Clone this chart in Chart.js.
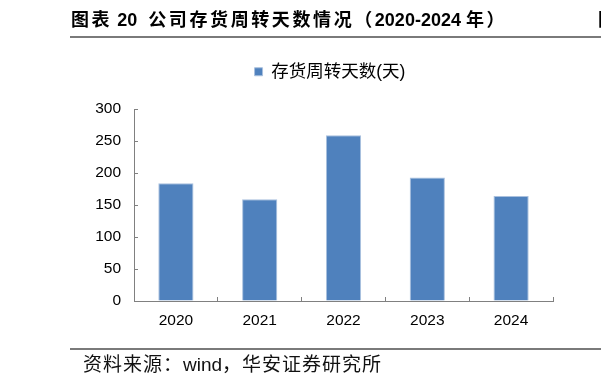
<!DOCTYPE html>
<html>
<head>
<meta charset="utf-8">
<script src="https://cdn.jsdelivr.net/npm/chart.js@4.4.1/dist/chart.umd.min.js"></script>
<style>
  body {
    margin: 0;
    width: 601px;
    height: 387px;
    position: relative;
    overflow: hidden;
    background: #fff;
    font-family: "Liberation Sans", "Noto Sans CJK SC", sans-serif;
  }
  #chart { position: absolute; left: 0; top: 0; }
  .title {
    position: absolute;
    left: 71px;
    top: 8px;
    font-size: 18px;
    font-weight: bold;
    line-height: 24px;
    white-space: nowrap;
    color: #000;
  }
  .title .cj { letter-spacing: 2.6px; }
  .title .gap { margin-left: 6px; }
  .cut {
    position: absolute;
    left: 598px;
    top: 8px;
    font-size: 18px;
    font-weight: bold;
    line-height: 24px;
  }
  .rule {
    position: absolute;
    left: 70px;
    right: 0;
    height: 2px;
    background: #7a7a7a;
  }
  .source {
    position: absolute;
    left: 83px;
    top: 353px;
    font-size: 19px;
    line-height: 24px;
    white-space: nowrap;
    color: #111;
  }
  .source .cj { letter-spacing: 1px; }
</style>
</head>
<body>

<canvas id="chart" width="601" height="387" style="width:601px;height:387px"></canvas>

<div class="title"><span class="cj">图表</span> 20 <span class="cj gap">公司存货周转天数情况（</span>2020-2024 <span class="cj">年）</span></div>
<div class="cut">图</div>
<div class="rule" style="top:36px"></div>

<div class="rule" style="top:348px"></div>
<div class="source"><span class="cj">资料来源：</span>wind<span class="cj">，华安证券研究所</span></div>

<script>
const years = ['2020', '2021', '2022', '2023', '2024'];
const turnoverDays = [184, 159, 259, 193, 164];
const yTicks = [0, 50, 100, 150, 200, 250, 300];
const seriesName = '存货周转天数(天)';

// extra room under the legend, and nudge it right to sit over the plot
const legendSpace = {
    id: 'legendSpace',
    beforeInit(chart) {
        const fit = chart.legend.fit;
        chart.legend.fit = function () {
            fit.call(this);
            this.height += 18.5;
        };
    },
    afterLayout(chart) {
        chart.legend.left += 9.5;
        chart.legend.right += 9.5;
    }
};

const axisGray = '#808080';

new Chart(document.getElementById('chart'), {
    type: 'bar',
    data: {
        labels: years,
        datasets: [{
            label: seriesName,
            data: turnoverDays,
            backgroundColor: '#4f81bd',
            borderColor: '#a9c0de',
            borderWidth: 1,
            categoryPercentage: 1,
            barPercentage: 0.42
        }]
    },
    options: {
        responsive: false,
        animation: false,
        devicePixelRatio: 1,
        layout: {
            padding: { left: 88, right: 48, top: 53, bottom: 46 }
        },
        plugins: {
            legend: {
                labels: {
                    boxWidth: 8,
                    boxHeight: 8,
                    padding: 10,
                    color: '#000',
                    font: { size: 17.5, family: '"Liberation Sans", "Noto Sans CJK SC", sans-serif' }
                }
            },
            tooltip: { enabled: false }
        },
        scales: {
            x: {
                grid: {
                    drawOnChartArea: false,
                    tickLength: -4,
                    color: axisGray,
                    offset: true
                },
                border: { color: axisGray },
                ticks: {
                    padding: 14,
                    color: '#000',
                    font: { size: 15.5, family: '"Liberation Sans", sans-serif' }
                },
                afterFit(scale) { scale.height = 40; }
            },
            y: {
                min: yTicks[0],
                max: yTicks[yTicks.length - 1],
                grid: {
                    drawOnChartArea: false,
                    tickLength: -4,
                    color: axisGray
                },
                border: { color: axisGray },
                ticks: {
                    stepSize: yTicks[1] - yTicks[0],
                    padding: 17,
                    color: '#000',
                    font: { size: 15.5, family: '"Liberation Sans", sans-serif' }
                },
                afterFit(scale) { scale.width = 46; }
            }
        }
    },
    plugins: [legendSpace]
});
</script>
</body>
</html>
